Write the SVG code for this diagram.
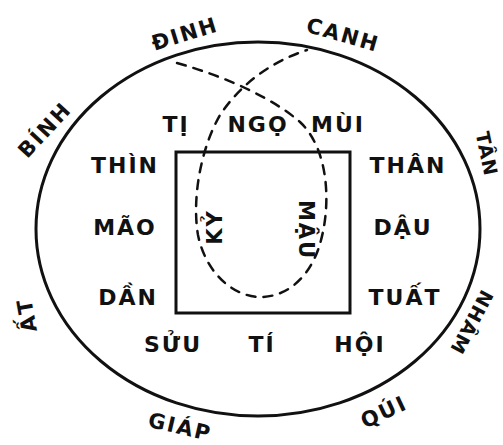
<svg xmlns="http://www.w3.org/2000/svg" width="503" height="445" viewBox="0 0 503 445">
<style>
.lbl{font-family:"DejaVu Sans","Liberation Sans",sans-serif;font-weight:bold;font-size:22px;letter-spacing:2px;fill:#111;text-anchor:middle}
.out{font-size:21px;letter-spacing:2px}
.sm{font-size:19px;letter-spacing:1px}
.line{fill:none;stroke:#111;stroke-width:3}
.dash{fill:none;stroke:#111;stroke-width:2.5;stroke-dasharray:9 8;stroke-linecap:round}
</style>
<rect width="503" height="445" fill="#fff"/>
<g id="connectors">
<ellipse class="line" cx="258" cy="229" rx="222" ry="187"/>
<rect class="line" x="176" y="152" width="174" height="161"/>
<path class="dash" d="M177 63 C230 78,275 100,300 122 C330 150,332 210,318 250 C305 285,280 298,258 297 C230 295,205 270,198 235 C192 200,200 150,220 115 C240 85,270 62,307 50"/>
</g>
<g id="n-ti"><text class="lbl" x="176" y="132">TỊ</text></g>
<g id="n-ngo"><text class="lbl" x="258" y="132">NGỌ</text></g>
<g id="n-mui"><text class="lbl" x="338" y="132">MÙI</text></g>
<g id="n-thin"><text class="lbl" x="125" y="173">THÌN</text></g>
<g id="n-than"><text class="lbl" x="408" y="173">THÂN</text></g>
<g id="n-mao"><text class="lbl" x="125" y="235">MÃO</text></g>
<g id="n-dau"><text class="lbl" x="403" y="235">DẬU</text></g>
<g id="n-dan"><text class="lbl" x="128" y="305">DẦN</text></g>
<g id="n-tuat"><text class="lbl" x="405" y="305">TUẤT</text></g>
<g id="n-suu"><text class="lbl" x="173" y="352">SỬU</text></g>
<g id="n-ti2"><text class="lbl" x="262" y="352">TÍ</text></g>
<g id="n-hoi"><text class="lbl" x="360" y="352">HỘI</text></g>
<g id="n-ky"><text class="lbl out" transform="translate(215,227) rotate(-90)" x="0" y="7">KỶ</text></g>
<g id="n-mau"><text class="lbl out" transform="translate(306,230) rotate(90)" x="0" y="7">MẬU</text></g>
<g id="n-dinh"><text class="lbl out" transform="translate(185,34) rotate(-17)" x="0" y="7">ĐINH</text></g>
<g id="n-canh"><text class="lbl out" transform="translate(343,35) rotate(16)" x="0" y="7">CANH</text></g>
<g id="n-binh"><text class="lbl out" transform="translate(45,130) rotate(-47)" x="0" y="7">BÍNH</text></g>
<g id="n-tan"><text class="lbl sm" transform="translate(486,154) rotate(78)" x="0" y="6">TÂN</text></g>
<g id="n-at"><text class="lbl out" transform="translate(27,315) rotate(-100)" x="0" y="7">ẤT</text></g>
<g id="n-nham"><text class="lbl sm" transform="translate(471,322) rotate(118)" x="0" y="6">NHÂM</text></g>
<g id="n-giap"><text class="lbl out" transform="translate(180,427) rotate(13)" x="0" y="7">GIÁP</text></g>
<g id="n-qui"><text class="lbl out" transform="translate(384,412) rotate(-25)" x="0" y="7">QÚI</text></g>
</svg>
